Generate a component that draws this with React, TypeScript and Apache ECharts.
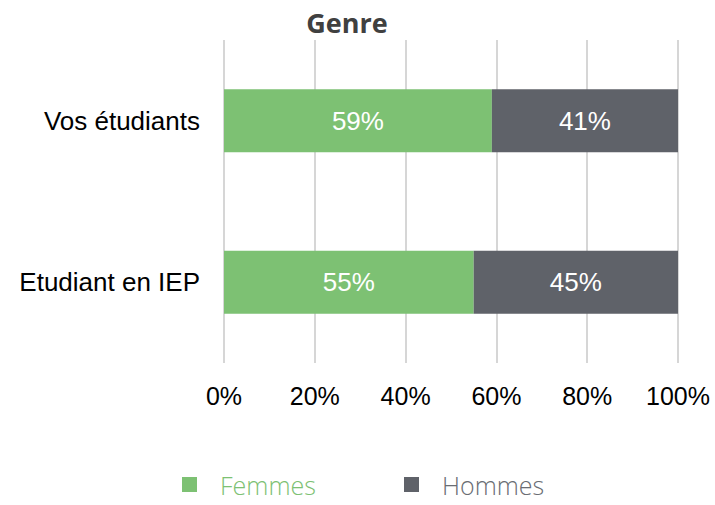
import React, { useEffect, useRef } from "react";
import * as echarts from "echarts";

const categories = ["Vos étudiants", "Etudiant en IEP"];
const femmes = [59, 55];
const hommes = [41, 45];
const xTicks = [0, 20, 40, 60, 80, 100];

export default function App() {
  const ref = useRef<HTMLDivElement>(null);
  useEffect(() => {
    const chart = echarts.init(ref.current!, null, { renderer: "svg" });
    const green = "#7DC173";
    const gray = "#5F6269";
    const legendText = { fontFamily: "Open Sans", fontSize: 25, fontWeight: 300, padding: [0, 0, 0, 18] };
    chart.setOption({
      animation: false,
      title: {
        text: "Genre",
        left: 342,
        top: 4,
        textAlign: "center",
        textStyle: { fontFamily: "Open Sans", fontWeight: "bold", fontSize: 27, color: "#404040" },
      },
      grid: { left: 224, right: 37, top: 40, bottom: 505 - 363, containLabel: false },
      xAxis: {
        type: "value",
        min: 0,
        max: 100,
        interval: 20,
        axisLine: { show: false },
        axisTick: { show: false },
        splitLine: { show: true, lineStyle: { color: "#C8C8C8", width: 1.5 } },
        axisLabel: {
          formatter: (v: number) => (xTicks.includes(v) ? v + "%" : ""),
          fontFamily: "Liberation Sans",
          fontSize: 25,
          color: "#000",
          margin: 20,
        },
      },
      yAxis: {
        type: "category",
        data: categories,
        inverse: true,
        axisLine: { show: false },
        axisTick: { show: false },
        axisLabel: { fontFamily: "Liberation Sans", fontSize: 26, color: "#000", margin: 24 },
      },
      legend: [
        {
          bottom: 3,
          left: 177,
          itemWidth: 15,
          itemHeight: 15,
          icon: "rect",
          data: [{ name: "Femmes", textStyle: { color: green } }],
          textStyle: legendText,
        },
        {
          bottom: 3,
          left: 399,
          itemWidth: 15,
          itemHeight: 15,
          icon: "rect",
          data: [{ name: "Hommes", textStyle: { color: "#6A6D73" } }],
          textStyle: legendText,
        },
      ],
      series: [
        {
          name: "Femmes",
          type: "bar",
          stack: "g",
          data: femmes,
          barWidth: 63,
          itemStyle: { color: green },
          label: { show: true, formatter: "{c}%", color: "#fff", fontFamily: "Liberation Sans", fontSize: 26 },
        },
        {
          name: "Hommes",
          type: "bar",
          stack: "g",
          data: hommes,
          barWidth: 63,
          itemStyle: { color: gray },
          label: { show: true, formatter: "{c}%", color: "#fff", fontFamily: "Liberation Sans", fontSize: 26 },
        },
      ],
    });
    return () => chart.dispose();
  }, []);
  return <div ref={ref} style={{ width: 715, height: 505, position: "absolute", left: 0, top: 0 }} />;
}
